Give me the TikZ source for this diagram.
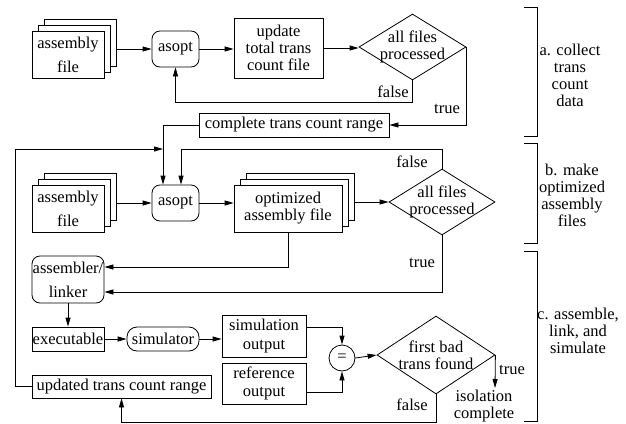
\documentclass[tikz,border=0pt]{standalone}
\usepackage{fontspec}
\setmainfont{Liberation Serif}
\newfontfamily\tms{Liberation Serif}
\usetikzlibrary{arrows.meta,shapes.geometric,shadows}
\begin{document}
\begin{tikzpicture}[x=1pt,y=-1pt,line width=0.8pt,
  every node/.style={font=\tms\fontsize{16.5}{17}\selectfont, inner sep=0pt, align=center},
  bx/.style={draw, fill=white},
  rnd/.style={draw, fill=white, rounded corners=8pt},
  stk/.style={draw, fill=white,
    copy shadow={shadow xshift=12pt, shadow yshift=12pt},
    copy shadow={shadow xshift=6pt, shadow yshift=6pt}},
  dia/.style={draw, diamond, aspect=1.6, inner xsep=-18pt, inner ysep=0pt},
  tight/.style={font=\tms\fontsize{16.5}{16.5}\selectfont},
  lbl/.style={font=\tms\fontsize{16.5}{17}\selectfont},
  arr/.style={-{Triangle[length=9pt,width=5pt]}},
  brk/.style={line width=0.8pt}
]
\useasboundingbox (0,0) rectangle (626,423);

% ---- section a ----
\node[stk, minimum width=72pt, minimum height=47pt] (fA) at (68,54.5) {assembly\\[7pt]file};
\node[rnd, minimum width=47pt, minimum height=36pt] (aA) at (175.5,49) {asopt};
\node[bx, minimum width=89pt, minimum height=60pt] (uA) at (278.5,48) {update\\total trans\\count file};
\node[dia, tight, minimum width=107pt, minimum height=66pt] (dA) at (412.5,47) {all files\\processed};
\node[bx, minimum width=190pt, minimum height=24pt] (cb) at (294,125) {complete trans count range};

\draw[arr] ([xshift=12pt]fA.east |- aA.west) -- (aA.west);
\draw[arr] (aA.east) -- (aA.east -| uA.west);
\draw[arr] (uA.east) -- (uA.east -| dA.west);
\draw[arr] (dA.south) -- (dA.south |- 0,102) -| (aA.south);
\draw[arr] (dA.east) |- (cb.east);
\node[lbl] (fAl) at (393,92) {false};
\node[lbl] (tAl) at (447,109) {true};

% ---- section b ----
\node[stk, minimum width=72pt, minimum height=47pt] (fB) at (68,208.5) {assembly\\[7pt]file};
\node[rnd, minimum width=47pt, minimum height=36pt] (aB) at (175.5,203) {asopt};
\node[stk, minimum width=108pt, minimum height=47pt] (oB) at (288,208.5) {optimized\\assembly file};
\node[dia, tight, minimum width=106pt, minimum height=66pt] (dB) at (442,202) {all files\\processed};
\node[rnd, minimum width=72pt, minimum height=47pt] (asm) at (68,279.5) {assembler/\\[7pt]linker};

\coordinate (jA) at (163,149);
\draw[arr] (cb.west) -| ([xshift=-12.5pt]aB.north);
\draw[arr] (dB.north) |- (181,149) -- ([xshift=5.5pt]aB.north);
\draw[arr] ([xshift=12pt]fB.east |- aB.west) -- (aB.west);
\draw[arr] (aB.east) -- (aB.east -| oB.west);
\draw[arr] ([xshift=12pt]oB.east |- dB.west) -- (dB.west);
\draw[arr] (oB.south) -- (oB.south |- 0,267) -- (asm.east |- 0,267);
\draw[arr] (dB.south) -- (dB.south |- 0,292) -- (asm.east |- 0,292);
\node[lbl] (fBl) at (412,162) {false};
\node[lbl] (tBl) at (422,263) {true};

% ---- section c ----
\node[bx, minimum width=72pt, minimum height=24pt] (exe) at (68,339) {executable};
\node[rnd, rounded corners=10pt, minimum width=72pt, minimum height=24pt] (sim) at (163,339) {simulator};
\node[bx, minimum width=84pt, minimum height=42pt] (so) at (264,336) {simulation\\[2pt]output};
\node[bx, minimum width=84pt, minimum height=41pt] (ro) at (264,383.5) {reference\\[1pt]output};
\node[bx, minimum width=179pt, minimum height=23pt] (upd) at (121.5,386.5) {updated trans count range};
\node[draw, circle, minimum size=26pt] (eq) at (342,358) {=};
\node[dia, aspect=1.5, inner xsep=-18pt, minimum width=118pt, minimum height=78pt] (dC) at (436,355) {first bad\\trans found};
\node (iso) at (484,406) {isolation\\complete};
\coordinate (tEnd) at (495,388);

\draw[arr] (asm.south) -- (exe.north);
\draw[arr] (exe.east) -- (sim.west);
\draw[arr] (sim.east) -- (sim.east -| so.west);
\draw[arr] ([yshift=9pt]so.east) -| (eq.north);
\draw[arr] ([yshift=-8.5pt]ro.east) -| (eq.south);
\draw[arr] (eq.east) -- (dC.west);
\draw[arr] (dC.east) -- (tEnd);
\draw[arr] (dC.south) -- (dC.south |- 0,422) -| (upd.south);
\draw[arr] (upd.west) -| (15,149) -- (jA);
\node[lbl] (tCl) at (512,370) {true};
\node[lbl] (fCl) at (412,405) {false};

% ---- brackets ----
\draw[brk] (524,7) -- (537,7) -- (537,136) -- (524,136);
\draw[brk] (524,143) -- (537,143) -- (537,243) -- (524,243);
\draw[brk] (524,251) -- (537,251) -- (537,421.5) -- (524,421.5);
\node (la) at (570,75) {a. collect\\trans\\count\\data};
\node (lb) at (572,195) {b. make\\optimized\\assembly\\files};
\node (lc) at (578,331) {c. assemble,\\link, and\\simulate};
\end{tikzpicture}
\end{document}
